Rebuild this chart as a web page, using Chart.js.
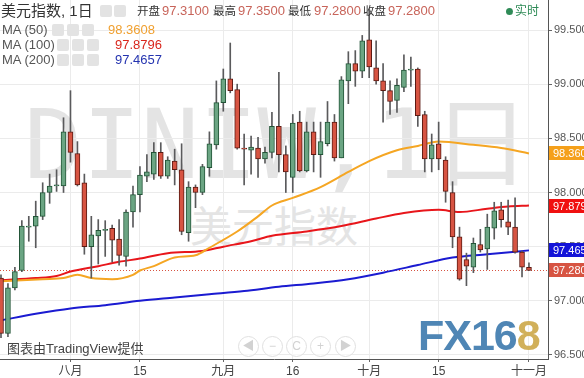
<!DOCTYPE html>
<html><head><meta charset="utf-8">
<script src="https://cdn.jsdelivr.net/npm/chart.js@4/dist/chart.umd.min.js"></script>
<style>
html,body{margin:0;padding:0;background:#fff;}
body{width:584px;height:378px;overflow:hidden;position:relative;font-family:"Liberation Sans","Noto Sans CJK SC",sans-serif;}
.a{position:absolute;white-space:nowrap;z-index:2;line-height:16px;font-size:13px;color:#444;}
.cj{font-size:11.5px;color:#333;}
#wrap{position:absolute;left:0;top:0;width:584px;height:378px;z-index:1;}
.wm{position:absolute;white-space:nowrap;z-index:0;color:#e4e4e4;}
.ico{position:absolute;width:12px;height:12px;background:#e3e3e3;border-radius:2px;z-index:2;}
.nav{position:absolute;width:19px;height:19px;border:1px solid #e0e0e0;border-radius:50%;z-index:2;color:#d2d2d2;font-size:12px;line-height:19px;text-align:center;background:rgba(255,255,255,0.6);}
</style></head>
<body>
<div class="wm" id="wm1" style="left:24px;top:96px;font-family:'DejaVu Sans Mono','Noto Sans CJK SC',monospace;font-size:97px;line-height:97px;">DINIW,1日</div>
<div class="wm" id="wm2" style="left:190px;top:203px;font-family:'Noto Sans CJK SC',sans-serif;font-size:42px;line-height:42px;">美元指数</div>
<div id="wrap"><canvas id="c"></canvas></div>

<div class="a" style="left:1px;top:2px;font-size:15px;line-height:17px;color:#333;">美元指数, 1日</div>
<div class="ico" style="left:100px;top:5px;"></div><div class="ico" style="left:114px;top:5px;"></div>
<div class="a cj" style="left:137px;top:3px;">开盘</div><div class="a" id="hO" style="left:162px;top:3px;color:#c8645a;"></div>
<div class="a cj" style="left:213px;top:3px;">最高</div><div class="a" id="hH" style="left:238px;top:3px;color:#c8645a;"></div>
<div class="a cj" style="left:288px;top:3px;">最低</div><div class="a" id="hL" style="left:314px;top:3px;color:#c8645a;"></div>
<div class="a cj" style="left:363px;top:3px;">收盘</div><div class="a" id="hC" style="left:388px;top:3px;color:#c8645a;"></div>
<div style="position:absolute;left:506px;top:8px;width:7px;height:7px;border-radius:50%;background:#2f8b57;z-index:2;"></div>
<div class="a" style="left:515px;top:3px;font-size:12px;color:#2f8b57;">实时</div>

<div class="a" style="left:2px;top:22px;color:#555;">MA (50)</div>
<div class="ico" style="left:52px;top:24px;"></div><div class="ico" style="left:67px;top:24px;"></div><div class="ico" style="left:82px;top:24px;"></div>
<div class="a" id="v50" style="left:108px;top:22px;color:#f0a030;"></div>
<div class="a" style="left:2px;top:37px;color:#555;">MA (100)</div>
<div class="ico" style="left:57px;top:39px;"></div><div class="ico" style="left:72px;top:39px;"></div><div class="ico" style="left:87px;top:39px;"></div>
<div class="a" id="v100" style="left:115px;top:37px;color:#d9261c;"></div>
<div class="a" style="left:2px;top:52px;color:#555;">MA (200)</div>
<div class="ico" style="left:57px;top:54px;"></div><div class="ico" style="left:72px;top:54px;"></div><div class="ico" style="left:87px;top:54px;"></div>
<div class="a" id="v200" style="left:115px;top:52px;color:#2534b0;"></div>

<div class="a" style="left:7px;top:341px;color:#444;">图表由TradingView提供</div>
<div class="nav" style="left:238px;top:336px;">◀</div>
<div class="nav" style="left:262px;top:336px;">−</div>
<div class="nav" style="left:286px;top:336px;">C</div>
<div class="nav" style="left:310px;top:336px;">+</div>
<div class="nav" style="left:335px;top:336px;">▶</div>
<div class="a" style="left:418px;top:314px;font-size:43px;line-height:43px;font-weight:bold;letter-spacing:-1px;"><span style="color:#4f86b5">FX16</span><span style="color:#d1b05a">8</span></div>

<script>
// trading days 2019-07-18 .. 2019-11-01
const dates = ['07-18','07-19','07-22','07-23','07-24','07-25','07-26','07-29','07-30','07-31',
 '08-01','08-02','08-05','08-06','08-07','08-08','08-09','08-12','08-13','08-14','08-15','08-16','08-19','08-20','08-21','08-22','08-23','08-26','08-27','08-28','08-29','08-30',
 '09-02','09-03','09-04','09-05','09-06','09-09','09-10','09-11','09-12','09-13','09-16','09-17','09-18','09-19','09-20','09-23','09-24','09-25','09-26','09-27','09-30',
 '10-01','10-02','10-03','10-04','10-07','10-08','10-09','10-10','10-11','10-14','10-15','10-16','10-17','10-18','10-21','10-22','10-23','10-24','10-25','10-28','10-29','10-30','10-31',
 '11-01'];
const open  = [97.21,96.70,97.12,97.28,97.68,97.69,97.78,98.00,98.06,98.06,
 98.56,98.36,98.09,97.50,97.60,97.65,97.67,97.57,97.41,97.82,97.98,98.15,98.17,98.37,98.15,98.29,98.21,97.63,98.05,98.00,98.23,98.44,
 98.83,99.05,98.95,98.41,98.39,98.41,98.31,98.37,98.61,98.35,98.14,98.65,98.20,98.56,98.35,98.45,98.65,98.32,99.03,99.19,99.12,
 99.41,99.15,99.03,98.94,98.85,98.97,99.13,99.14,98.72,98.31,98.45,98.30,98.00,97.59,97.38,97.31,97.52,97.48,97.67,97.84,97.73,97.68,97.45,
 97.31];
const high  = [97.24,97.16,97.31,97.74,97.78,97.92,98.09,98.17,98.21,98.69,
 98.94,98.47,98.17,97.78,97.75,97.74,97.70,97.75,97.84,98.06,98.24,98.35,98.46,98.46,98.33,98.40,98.45,98.10,98.07,98.26,98.56,99.03,
 99.14,99.38,99.00,98.54,98.52,98.51,98.42,98.74,99.11,98.43,98.72,98.75,98.65,98.65,98.65,98.84,98.72,99.07,99.30,99.31,99.45,
 99.68,99.40,99.19,99.03,99.05,99.27,99.25,99.15,98.75,98.54,98.65,98.33,98.10,97.68,97.44,97.58,97.66,97.80,97.91,97.91,97.93,97.95,97.46,
 97.35];
const low   = [96.66,96.67,97.10,97.27,97.55,97.49,97.75,97.90,98.01,98.00,
 98.28,98.06,97.43,97.21,97.34,97.41,97.36,97.33,97.32,97.68,97.82,98.10,98.12,98.13,98.13,98.07,97.61,97.55,97.86,97.98,98.15,98.40,
 98.75,98.92,98.40,98.07,98.17,98.14,98.27,98.32,98.19,98.00,98.00,98.19,98.19,98.19,98.14,98.43,98.29,98.32,98.82,98.98,99.06,
 99.06,99.00,98.65,98.72,98.74,98.93,98.98,98.61,98.19,98.19,98.21,97.91,97.49,97.19,97.14,97.26,97.45,97.29,97.57,97.68,97.61,97.44,97.22,
 97.28];
const close = [96.70,97.12,97.27,97.69,97.69,97.78,98.00,98.06,98.07,98.56,
 98.37,98.07,97.50,97.61,97.65,97.66,97.56,97.42,97.82,97.98,98.16,98.19,98.37,98.15,98.30,98.21,97.64,98.05,98.00,98.24,98.45,98.83,
 99.05,98.94,98.41,98.40,98.42,98.31,98.37,98.61,98.35,98.19,98.64,98.20,98.56,98.35,98.47,98.65,98.32,99.04,99.19,99.12,99.40,
 99.16,99.03,98.94,98.84,98.99,99.13,99.14,98.71,98.31,98.44,98.31,98.01,97.59,97.20,97.32,97.53,97.47,97.68,97.83,97.75,97.68,97.45,97.31,
 97.28];

// moving averages read at selected trading-day indexes
const ma50Idx  = [0,6,9,11,13,16,19,20,22,25,28,30,34,37,39,42,46,50,53,57,60,63,68,72,76];
const ma50     = [97.18,97.20,97.21,97.24,97.21,97.20,97.24,97.28,97.32,97.40,97.42,97.49,97.64,97.78,97.88,97.95,98.05,98.19,98.29,98.39,98.43,98.47,98.44,98.41,98.3608];
const ma100Idx = [0,5,8,10,14,17,20,24,29,32,36,39,44,49,54,58,63,66,70,73,76];
const ma100    = [97.19,97.21,97.23,97.27,97.32,97.36,97.39,97.44,97.46,97.50,97.55,97.60,97.64,97.69,97.76,97.81,97.84,97.82,97.85,97.87,97.8796];
const ma200Idx = [0,5,10,15,20,25,30,35,40,45,50,55,60,65,70,76];
const ma200    = [96.82,96.88,96.93,96.96,97.00,97.03,97.06,97.09,97.13,97.16,97.20,97.26,97.33,97.40,97.43,97.4657];

const yTicks = [96.5, 97, 97.5, 98, 98.5, 99, 99.5];
const xTickIdx = [10, 20, 32, 42, 53, 63, 76];
const xTickLabels = ['八月', '15', '九月', '16', '十月', '15', '十一月'];

const UP = '#6ba583', DOWN = '#d75442', UPB = '#225437', DOWNB = '#5b1a13', WICK = '#5a5a5c';
const C50 = '#f5a623', C100 = '#e8161b', C200 = '#1b1bd1';

const last = close.length - 1;
const trunc3 = v => (Math.floor(v * 1000 + 1e-6) / 1000).toFixed(3);
document.getElementById('hO').textContent = open[last].toFixed(4);
document.getElementById('hH').textContent = high[last].toFixed(4);
document.getElementById('hL').textContent = low[last].toFixed(4);
document.getElementById('hC').textContent = close[last].toFixed(4);
document.getElementById('v50').textContent = ma50[ma50.length-1].toFixed(4);
document.getElementById('v100').textContent = ma100[ma100.length-1].toFixed(4);
document.getElementById('v200').textContent = ma200[ma200.length-1].toFixed(4);

const idx = open.map((_, i) => i);
const isUp = idx.map(i => close[i] >= open[i]);

const FONT = '"Liberation Sans","Noto Sans CJK SC",sans-serif';
Chart.defaults.font.family = FONT;

const priceLine = {
  id: 'priceLine',
  beforeDatasetsDraw(chart) {
    const {ctx, chartArea: ca, scales: {y}} = chart;
    const py = Math.round(y.getPixelForValue(close[last])) + 0.5;
    ctx.save();
    ctx.strokeStyle = DOWN; ctx.lineWidth = 1; ctx.setLineDash([1, 2]);
    ctx.beginPath(); ctx.moveTo(ca.left, py); ctx.lineTo(ca.right, py); ctx.stroke();
    ctx.restore();
  }
};
const tagPlugin = {
  id: 'tags',
  afterDraw(chart) {
    const {ctx, chartArea: ca, scales: {y}} = chart;
    const tags = [
      {v: ma50[ma50.length-1], c: '#f5a01a'},
      {v: ma100[ma100.length-1], c: '#f01010'},
      {v: ma200[ma200.length-1], c: '#1414d8'},
      {v: close[last], c: DOWN}
    ];
    ctx.save();
    tags.forEach(t => {
      const py = Math.round(y.getPixelForValue(t.v));
      ctx.fillStyle = t.c;
      ctx.fillRect(ca.right + 1, py - 7, 40, 14);
      ctx.fillStyle = '#fff';
      ctx.font = '11px ' + FONT;
      ctx.textBaseline = 'middle';
      ctx.textAlign = 'left';
      ctx.fillText(trunc3(t.v), ca.right + 5, py + 0.5);
    });
    ctx.restore();
  }
};

new Chart(document.getElementById('c'), {
  type: 'bar',
  data: {
    datasets: [
      {
        type: 'bar', label: 'body',
        data: idx.map(i => ({x: i, y: [open[i], close[i]]})),
        backgroundColor: idx.map(i => isUp[i] ? UP : DOWN),
        borderColor: idx.map(i => isUp[i] ? UPB : DOWNB),
        borderWidth: 1, borderSkipped: false, barThickness: 5, minBarLength: 1,
        grouped: false, order: 0
      },
      {
        type: 'bar', label: 'wick',
        data: idx.map(i => ({x: i, y: [low[i], high[i]]})),
        backgroundColor: WICK, borderWidth: 0, barThickness: 1,
        grouped: false, order: 1
      },
      {
        type: 'line', label: 'MA (50)',
        data: ma50Idx.map((d, k) => ({x: d, y: ma50[k]})),
        borderColor: C50, borderWidth: 2, pointRadius: 0, cubicInterpolationMode: 'monotone', order: 2
      },
      {
        type: 'line', label: 'MA (100)',
        data: ma100Idx.map((d, k) => ({x: d, y: ma100[k]})),
        borderColor: C100, borderWidth: 2, pointRadius: 0, cubicInterpolationMode: 'monotone', order: 3
      },
      {
        type: 'line', label: 'MA (200)',
        data: ma200Idx.map((d, k) => ({x: d, y: ma200[k]})),
        borderColor: C200, borderWidth: 2, pointRadius: 0, cubicInterpolationMode: 'monotone', order: 4
      }
    ]
  },
  options: {
    responsive: true, maintainAspectRatio: false, animation: false,
    layout: {padding: 0},
    plugins: {legend: {display: false}, tooltip: {enabled: false}},
    scales: {
      x: {
        type: 'linear', min: -0.144, max: 78.74, offset: false,
        afterBuildTicks: s => { s.ticks = xTickIdx.map(v => ({value: v})); },
        afterFit: s => { s.height = 19; s.paddingLeft = 0; s.paddingRight = 0; },
        ticks: {autoSkip: false, maxRotation: 0, padding: 2, color: '#444', font: {size: 12},
          callback: v => { const k = xTickIdx.indexOf(v); return k >= 0 ? xTickLabels[k] : ''; }},
        grid: {color: '#ebebeb', tickLength: 3, tickColor: '#666', offset: false},
        border: {color: '#555'}
      },
      y: {
        position: 'right', min: 96.463, max: 99.777,
        afterBuildTicks: s => { s.ticks = yTicks.map(v => ({value: v})); },
        afterFit: s => { s.width = 36; s.paddingTop = 0; s.paddingBottom = 0; },
        ticks: {padding: 2, color: '#555', font: {size: 11}, callback: v => Number(v).toFixed(3)},
        grid: {color: '#ebebeb', tickLength: 4, tickColor: '#666'},
        border: {color: '#555'}
      }
    }
  },
  plugins: [priceLine, tagPlugin]
});
</script>
</body></html>
